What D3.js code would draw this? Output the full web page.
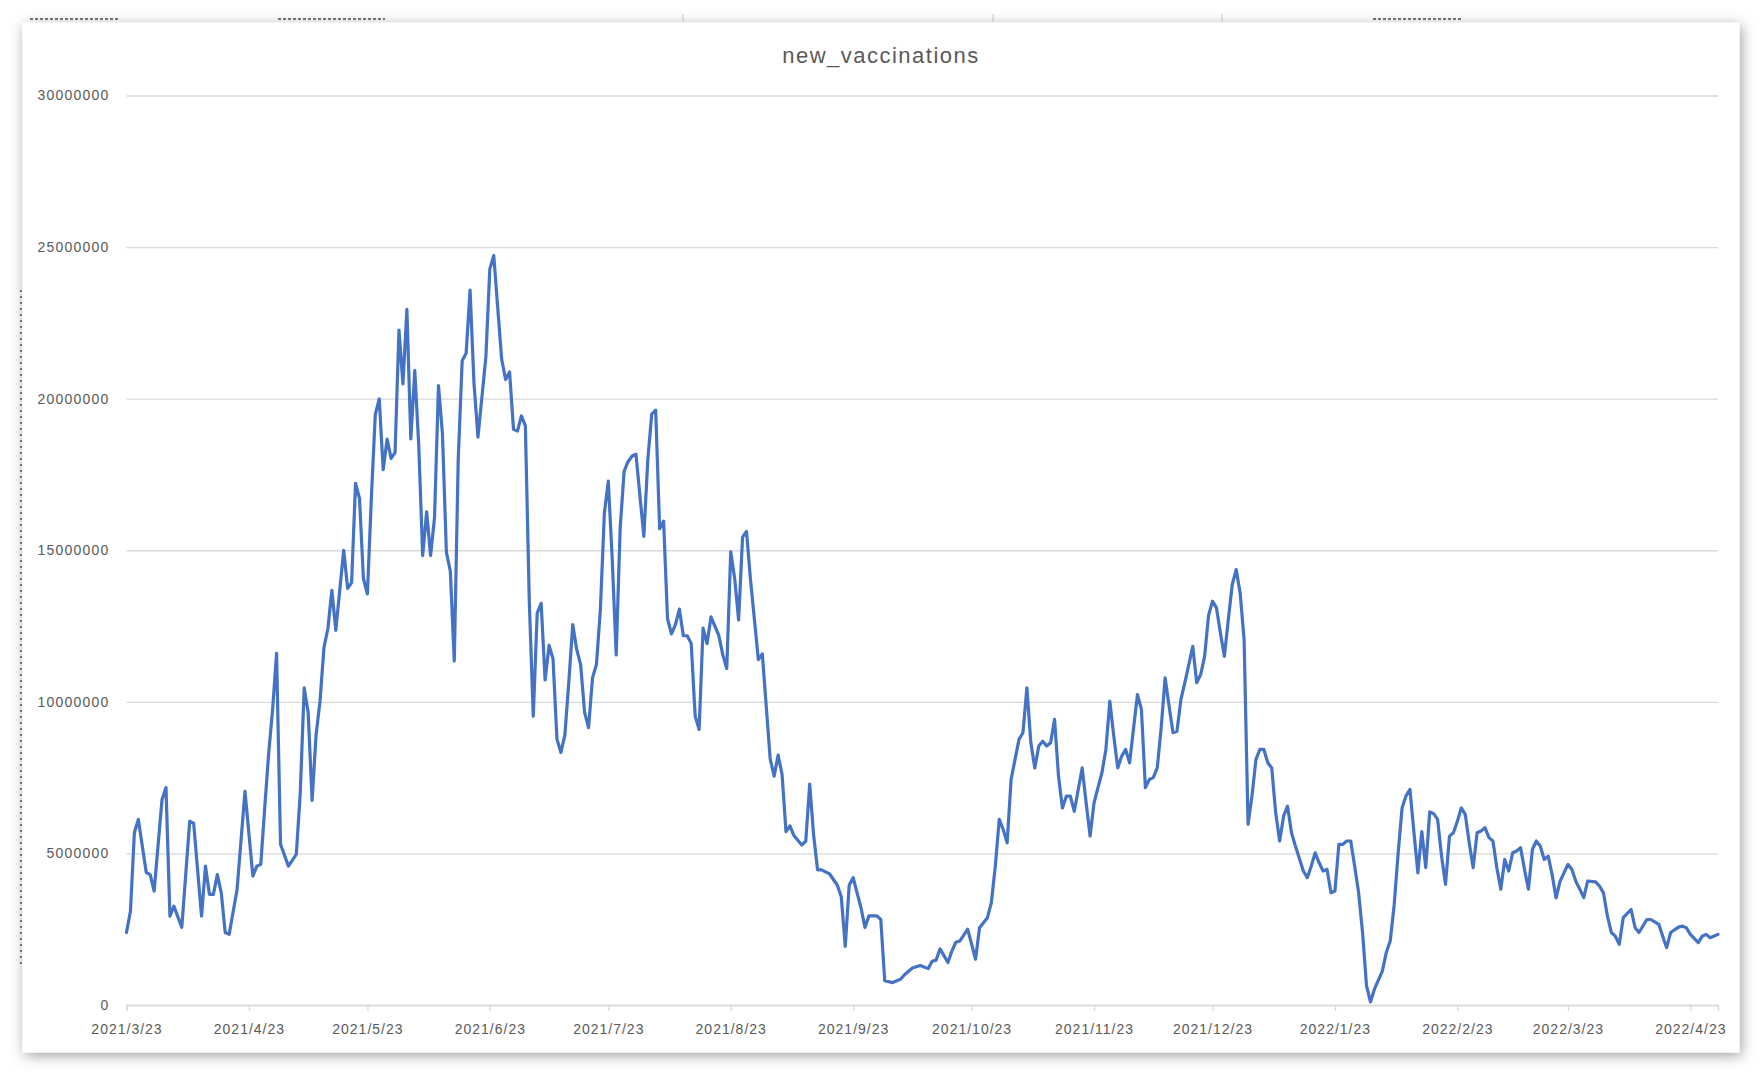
<!DOCTYPE html>
<html><head><meta charset="utf-8">
<script src="https://cdn.jsdelivr.net/npm/d3@7"></script>
<style>
html,body{margin:0;padding:0;background:#fff;}
svg{display:block;}
text{font-family:"Liberation Sans", Arial, sans-serif;}
</style></head>
<body><svg id="chart" width="1762" height="1074"></svg>
<script>
const chartTitle = "new_vaccinations";
const startDate = "2021-03-23";
const endDate = "2022-04-30";
const xTickLabels = ["2021/3/23","2021/4/23","2021/5/23","2021/6/23","2021/7/23","2021/8/23","2021/9/23","2021/10/23","2021/11/23","2021/12/23","2022/1/23","2022/2/23","2022/3/23","2022/4/23"];
const yTickValues = [0, 5000000, 10000000, 15000000, 20000000, 25000000, 30000000];

// days since startDate
const dayOffsets = [0,1,2,3,5,6,7,9,10,11,12,14,16,17,19,20,21,22,23,24,25,26,28,30,32,33,34,35,36,37,38,39,41,43,44,45,46,47,48,49,50,51,52,53,55,56,57,58,59,60,61,62,63,64,65,66,67,68,69,70,71,72,73,74,75,76,77,78,79,80,81,82,83,84,85,86,87,88,89,91,92,93,94,95,96,97,98,99,100,101,102,103,104,105,106,107,108,109,110,111,112,113,114,115,116,117,118,119,120,121,122,123,124,125,126,127,128,129,131,132,133,134,135,136,137,138,139,140,141,142,143,144,145,146,147,148,150,151,152,153,154,155,156,157,158,160,161,163,164,165,166,167,168,169,171,172,173,174,175,176,177,178,180,181,182,183,184,185,186,187,188,190,191,192,194,196,197,199,201,203,204,205,206,208,209,210,211,213,215,216,218,219,220,221,222,223,224,226,227,228,229,230,231,232,233,234,235,236,237,238,239,240,241,242,243,244,245,246,247,248,249,250,251,252,253,254,256,257,258,259,260,261,262,263,264,265,266,267,268,269,270,271,272,273,274,275,276,277,278,279,280,281,282,283,284,285,286,287,288,289,290,291,292,293,294,295,296,298,299,300,301,302,303,304,305,306,307,308,309,310,311,312,313,314,315,316,318,319,320,321,322,323,324,325,326,327,328,329,330,331,332,333,334,335,336,337,338,339,340,341,342,343,344,345,346,347,348,349,350,351,352,353,354,355,356,357,358,359,360,361,362,363,364,365,366,367,368,369,370,372,373,374,375,376,377,378,379,381,382,383,385,386,388,389,390,391,393,394,395,396,398,399,400,401,403];

const newVaccinations = [2.39e6,3.10e6,5.69e6,6.12e6,4.37e6,4.30e6,3.76e6,6.78e6,7.17e6,2.93e6,3.26e6,2.56e6,6.06e6,6.00e6,2.93e6,4.58e6,3.65e6,3.65e6,4.30e6,3.70e6,2.39e6,2.33e6,3.81e6,7.05e6,4.25e6,4.58e6,4.64e6,6.50e6,8.30e6,9.75e6,11.60e6,5.30e6,4.58e6,4.97e6,7.00e6,10.46e6,9.65e6,6.75e6,8.90e6,10.02e6,11.79e6,12.42e6,13.68e6,12.36e6,15.00e6,13.74e6,13.93e6,17.21e6,16.71e6,14.06e6,13.56e6,16.71e6,19.48e6,19.99e6,17.66e6,18.67e6,18.03e6,18.22e6,22.26e6,20.49e6,22.95e6,18.67e6,20.93e6,18.47e6,14.82e6,16.27e6,14.82e6,16.08e6,20.43e6,18.85e6,14.94e6,14.31e6,11.35e6,18.00e6,21.25e6,21.50e6,23.58e6,20.49e6,18.73e6,21.37e6,24.28e6,24.72e6,23.00e6,21.30e6,20.63e6,20.88e6,18.99e6,18.93e6,19.43e6,19.11e6,13.30e6,9.53e6,12.93e6,13.25e6,10.72e6,11.86e6,11.42e6,8.77e6,8.33e6,8.90e6,10.66e6,12.55e6,11.73e6,11.23e6,9.65e6,9.15e6,10.79e6,11.23e6,13.06e6,16.21e6,17.28e6,14.70e6,11.55e6,15.71e6,17.60e6,17.92e6,18.10e6,18.17e6,15.46e6,17.98e6,19.49e6,19.62e6,15.71e6,15.96e6,12.74e6,12.24e6,12.55e6,13.06e6,12.18e6,12.18e6,11.92e6,9.53e6,9.09e6,12.43e6,11.92e6,12.80e6,12.18e6,11.55e6,11.10e6,14.95e6,14.07e6,12.70e6,15.43e6,15.62e6,14.04e6,11.39e6,11.58e6,8.11e6,7.55e6,8.24e6,7.61e6,5.72e6,5.91e6,5.59e6,5.28e6,5.40e6,7.29e6,5.59e6,4.46e6,4.46e6,4.39e6,4.33e6,3.95e6,3.57e6,1.93e6,3.95e6,4.20e6,3.70e6,3.20e6,2.56e6,2.94e6,2.94e6,2.82e6,0.80e6,0.74e6,0.85e6,1.00e6,1.22e6,1.30e6,1.20e6,1.44e6,1.48e6,1.85e6,1.40e6,1.78e6,2.07e6,2.11e6,2.50e6,1.51e6,2.55e6,2.88e6,3.38e6,4.58e6,6.12e6,5.79e6,5.35e6,7.44e6,8.76e6,8.98e6,10.46e6,8.65e6,7.82e6,8.54e6,8.70e6,8.54e6,8.65e6,9.42e6,7.55e6,6.50e6,6.89e6,6.89e6,6.39e6,7.11e6,7.82e6,6.67e6,5.57e6,6.67e6,7.17e6,7.66e6,8.43e6,10.02e6,8.87e6,7.82e6,8.21e6,8.43e6,7.99e6,10.24e6,9.75e6,7.17e6,7.44e6,7.50e6,7.82e6,9.14e6,10.79e6,9.86e6,8.98e6,9.03e6,10.08e6,10.63e6,11.23e6,11.83e6,10.63e6,10.90e6,11.50e6,12.85e6,13.32e6,13.10e6,12.27e6,11.50e6,12.71e6,13.87e6,14.36e6,13.59e6,12.05e6,5.96e6,6.90e6,8.10e6,8.43e6,8.43e6,7.99e6,7.82e6,6.34e6,5.41e6,6.23e6,6.56e6,5.68e6,5.24e6,4.42e6,4.20e6,4.58e6,5.02e6,4.69e6,4.42e6,4.47e6,3.70e6,3.76e6,5.30e6,5.30e6,5.41e6,5.41e6,4.58e6,3.70e6,2.39e6,0.63e6,0.10e6,0.52e6,1.12e6,1.73e6,2.11e6,3.30e6,5.00e6,6.50e6,6.90e6,7.11e6,5.70e6,4.36e6,5.72e6,4.53e6,6.37e6,6.31e6,6.12e6,4.91e6,3.98e6,5.57e6,5.68e6,6.06e6,6.50e6,6.29e6,5.35e6,4.53e6,5.68e6,5.74e6,5.85e6,5.52e6,5.41e6,4.53e6,3.82e6,4.80e6,4.42e6,5.02e6,5.08e6,5.19e6,4.47e6,3.82e6,5.13e6,5.41e6,5.24e6,4.80e6,4.91e6,4.30e6,3.53e6,4.08e6,4.36e6,4.64e6,4.47e6,4.08e6,3.82e6,3.54e6,4.09e6,4.06e6,3.92e6,3.70e6,2.93e6,2.39e6,2.27e6,2.00e6,2.88e6,3.15e6,2.55e6,2.39e6,2.82e6,2.82e6,2.66e6,2.27e6,1.89e6,2.39e6,2.57e6,2.60e6,2.55e6,2.33e6,2.06e6,2.27e6,2.33e6,2.22e6,2.33e6];

const parse = d3.timeParse("%Y-%m-%d");
const parseTick = d3.timeParse("%Y/%m/%d");
const t0 = parse(startDate), t1 = parse(endDate);
const data = dayOffsets.map((d, i) => ({date: d3.timeDay.offset(t0, d), value: newVaccinations[i]}));
const tickDates = xTickLabels.map(s => parseTick(s));

const svg = d3.select("#chart");
const defs = svg.append("defs");
const f = defs.append("filter").attr("id","shadow").attr("x","-5%").attr("y","-5%").attr("width","110%").attr("height","110%");
f.append("feDropShadow").attr("dx",2).attr("dy",3).attr("stdDeviation",7).attr("flood-color","#000").attr("flood-opacity",0.38);

// faint spreadsheet fragments above the chart
const frag = svg.append("g");
[[30,118],[278,385],[1373,1462]].forEach(([a,b]) => {
  frag.append("line").attr("x1",a).attr("x2",b).attr("y1",19).attr("y2",19)
    .attr("stroke","#777").attr("stroke-width",2).attr("stroke-dasharray","3,2");
});
[683, 993, 1222].forEach(x => frag.append("line").attr("x1",x).attr("x2",x).attr("y1",14).attr("y2",22).attr("stroke","#ccc"));
svg.append("line").attr("x1",21).attr("x2",21).attr("y1",290).attr("y2",965)
  .attr("stroke","#555").attr("stroke-width",1.5).attr("stroke-dasharray","2,4");

// chart area
svg.append("rect").attr("x",22.5).attr("y",22.5).attr("width",1717).attr("height",1030)
  .attr("fill","#fff").attr("filter","url(#shadow)");

const x = d3.scaleTime().domain([t0, t1]).range([126.5, 1718]);
const y = d3.scaleLinear().domain([0, 30000000]).range([1005, 95.5]);

// y axis with gridlines
const gy = svg.append("g").attr("transform","translate(126.5,0)")
  .call(d3.axisLeft(y).tickValues(yTickValues).tickSize(-(1718-126.5)).tickPadding(17).tickFormat(d3.format("d")));
gy.select(".domain").remove();
gy.selectAll(".tick line").attr("stroke","#d9d9d9").attr("stroke-width",1.3);
gy.selectAll(".tick text").attr("fill","#595959").attr("font-size",14).attr("letter-spacing","1.2px")
  .attr("font-family","'Liberation Sans', Arial, sans-serif");

// x axis
const gx = svg.append("g").attr("transform","translate(0,1005)")
  .call(d3.axisBottom(x).tickValues(tickDates).tickSize(6).tickPadding(13).tickFormat(d3.timeFormat("%Y/%-m/%-d")));
gx.select(".domain").attr("stroke","#d9d9d9").attr("stroke-width",1.3);
gx.selectAll(".tick line").attr("stroke","#d9d9d9").attr("stroke-width",1.3);
gx.selectAll(".tick text").attr("fill","#595959").attr("font-size",14).attr("letter-spacing","1px")
  .attr("font-family","'Liberation Sans', Arial, sans-serif");

// line
const line = d3.line().x(d => x(d.date)).y(d => y(d.value));
svg.append("path").datum(data).attr("d", line)
  .attr("fill","none").attr("stroke","#4472c4").attr("stroke-width",3.2)
  .attr("stroke-linejoin","round").attr("stroke-linecap","round");

// title
svg.append("text").attr("x",881).attr("y",57).attr("text-anchor","middle").attr("dominant-baseline","middle")
  .attr("fill","#595959").attr("font-size",22).attr("letter-spacing","1.5px").text(chartTitle);
</script>
</body></html>
